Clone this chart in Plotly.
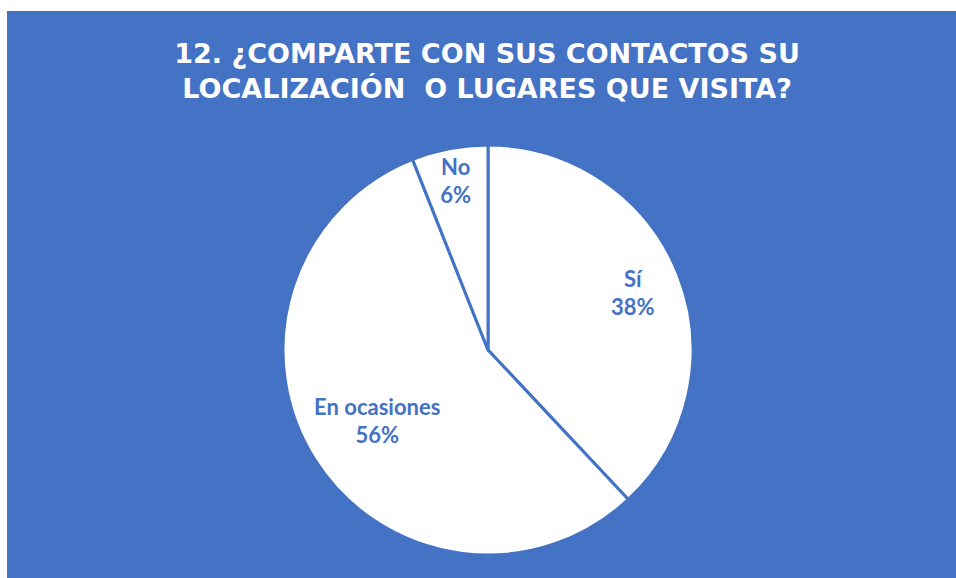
import plotly.graph_objects as go

labels = ["Sí", "En ocasiones", "No"]
values = [38, 56, 6]
title_lines = ["12. ¿COMPARTE CON SUS CONTACTOS SU", "LOCALIZACIÓN  O LUGARES QUE VISITA?"]

BLUE = "#4472C4"
W, H = 956, 578
dom = dict(x=[(488 - 205) / W, (488 + 205) / W], y=[(578 - 555) / H, (578 - 145) / H])
TPL = "%{label}<br>%{percent:.0%}"
label_font = dict(family="Lato", size=22, color=BLUE, weight="bold")

fig = go.Figure()
# slices
fig.add_trace(go.Pie(
    labels=labels, values=values, sort=False, direction="clockwise", rotation=0,
    marker=dict(colors=["white"] * len(labels), line=dict(color=BLUE, width=3)),
    textinfo="none", showlegend=False, hoverinfo="label+percent", domain=dom,
))
# labels for the small slices, in the outer ring
fig.add_trace(go.Pie(
    labels=labels, values=values, sort=False, direction="clockwise", rotation=0,
    hole=0.52,
    marker=dict(colors=["rgba(0,0,0,0)"] * len(labels), line=dict(width=0)),
    texttemplate=[TPL if v < 50 else "" for v in values],
    textposition="inside", insidetextorientation="horizontal",
    textfont=label_font, showlegend=False, hoverinfo="skip", domain=dom,
))
# label for the large slice
fig.add_trace(go.Pie(
    labels=labels, values=values, sort=False, direction="clockwise", rotation=0,
    hole=0.28,
    marker=dict(colors=["rgba(0,0,0,0)"] * len(labels), line=dict(width=0)),
    texttemplate=[TPL if v >= 50 else "" for v in values],
    textposition="inside", insidetextorientation="horizontal",
    textfont=label_font, showlegend=False, hoverinfo="skip", domain=dom,
))

fig.update_layout(
    width=W, height=H,
    margin=dict(l=0, r=0, t=0, b=0),
    paper_bgcolor=BLUE,
    title=dict(
        text="<br>".join(title_lines),
        x=0.5095, xanchor="center",
        y=1 - 63 / H, yanchor="top",
        font=dict(family="DejaVu Sans", size=27, color="white", weight="bold"),
    ),
    shapes=[
        dict(type="rect", xref="paper", yref="paper", x0=-0.01, x1=1.01, y0=1 - 11 / H, y1=1.01,
             fillcolor="white", line=dict(width=0), layer="below"),
        dict(type="rect", xref="paper", yref="paper", x0=-0.01, x1=7 / W, y0=-0.01, y1=1.01,
             fillcolor="white", line=dict(width=0), layer="below"),
    ],
)

fig.write_html(
    "out.html",
    config={"displayModeBar": False},
    post_script=("document.body.style.margin='0';document.body.style.overflow='hidden';"
                 "document.documentElement.style.overflow='hidden';"),
)
